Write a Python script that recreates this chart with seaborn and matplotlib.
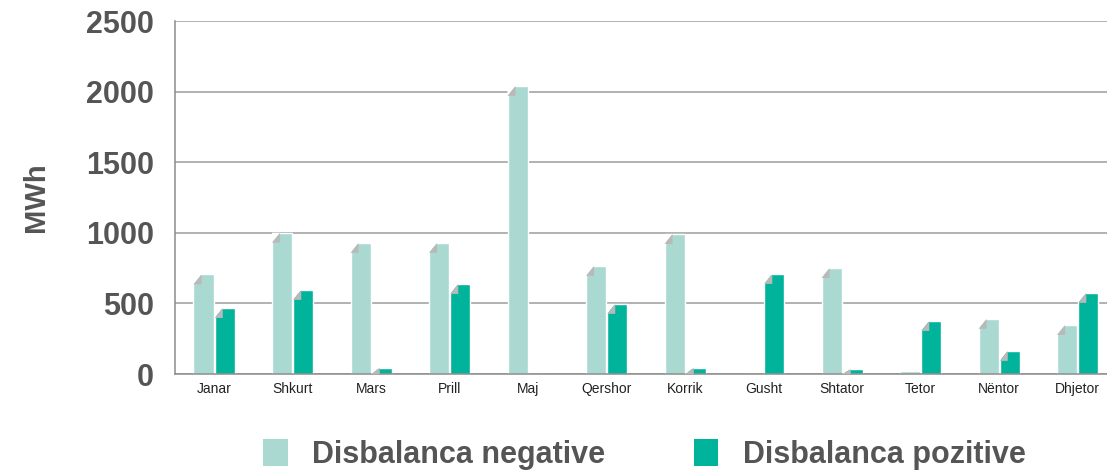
import pandas as pd
import numpy as np
import matplotlib
matplotlib.use("Agg")
import matplotlib.pyplot as plt
import seaborn as sns
from matplotlib.patches import Polygon, Patch


muajt = ["Janar", "Shkurt", "Mars", "Prill", "Maj", "Qershor",
         "Korrik", "Gusht", "Shtator", "Tetor", "Nëntor", "Dhjetor"]
negative = [705, 1000, 928, 928, 2040, 765, 991, 0, 750, 20, 390, 347]
pozitive = [467, 595, 45, 637, 0, 496, 45, 708, 35, 375, 163, 574]
seri = ["Disbalanca negative", "Disbalanca pozitive"]
ngjyrat = ["#a9d9d1", "#00b39b"]

df = pd.DataFrame({
	"muaji": muajt * 2,
	"MWh": negative + pozitive,
	"lloji": [seri[0]] * len(muajt) + [seri[1]] * len(muajt),
})

sns.set_style("white")
plt.rcParams["font.family"] = ["Liberation Sans", "DejaVu Sans"]

fig = plt.figure(figsize=(11.07, 4.73), dpi=100)
ax = fig.add_axes([0.158, 0.2093, 0.851, 0.7463])

sns.barplot(data=df, x="muaji", y="MWh", hue="lloji", palette=ngjyrat,
            width=0.54, gap=0.05, saturation=1, legend=False, ax=ax)

# folded top-left corner on every bar (the pseudo-3D look)
for cont in ax.containers:
	for bar in cont:
		h = bar.get_height()
		if h <= 25:
			continue
		x0 = bar.get_x()
		w = bar.get_width()
		a = 0.4 * w
		d = min(70, h)
		ax.add_patch(Polygon([(x0, h - d), (x0 + a, h), (x0, h)], closed=True,
		                     facecolor="white", edgecolor="none", zorder=3))
		ax.add_patch(Polygon([(x0, h - d), (x0 + a, h), (x0 + a, h - d)], closed=True,
		                     facecolor="#b9b9b9", edgecolor="none", zorder=3))

ax.set_ylim(0, 2500)
ax.set_xlim(-0.5, 11.5)
ax.set_yticks([0, 500, 1000, 1500, 2000, 2500])
ax.yaxis.grid(True, color="#9c9c9c", linewidth=1.1)
ax.set_axisbelow(True)

for side in ["top", "right"]:
	ax.spines[side].set_visible(False)
for side in ["left", "bottom"]:
	ax.spines[side].set_color("#8c8c8c")
	ax.spines[side].set_linewidth(1.1)

ax.set_xlabel("")
ax.set_ylabel("MWh", fontsize=21, fontweight="bold", color="#555555", labelpad=26)
ax.tick_params(axis="y", labelsize=22, labelcolor="#555555", length=3,
               color="#8c8c8c", pad=12)
for lbl in ax.get_yticklabels():
	lbl.set_fontweight("bold")
ax.tick_params(axis="x", labelsize=10, labelcolor="#222222", length=0, pad=6)
ax.set_xticks(np.arange(-0.5, 12, 1), minor=True)
ax.tick_params(axis="x", which="minor", length=4, color="#8c8c8c", direction="out")

handles = [Patch(facecolor=c, edgecolor="none") for c in ngjyrat]
leg = fig.legend(handles, seri, loc="center", bbox_to_anchor=(0.582, 0.04), ncol=2,
                 frameon=False, handlelength=0.8, handleheight=1.0,
                 handletextpad=0.8, columnspacing=2.9,
                 prop={"size": 22, "weight": "bold"})
for t in leg.get_texts():
	t.set_color("#555555")

fig.savefig("out.png", dpi=100)
